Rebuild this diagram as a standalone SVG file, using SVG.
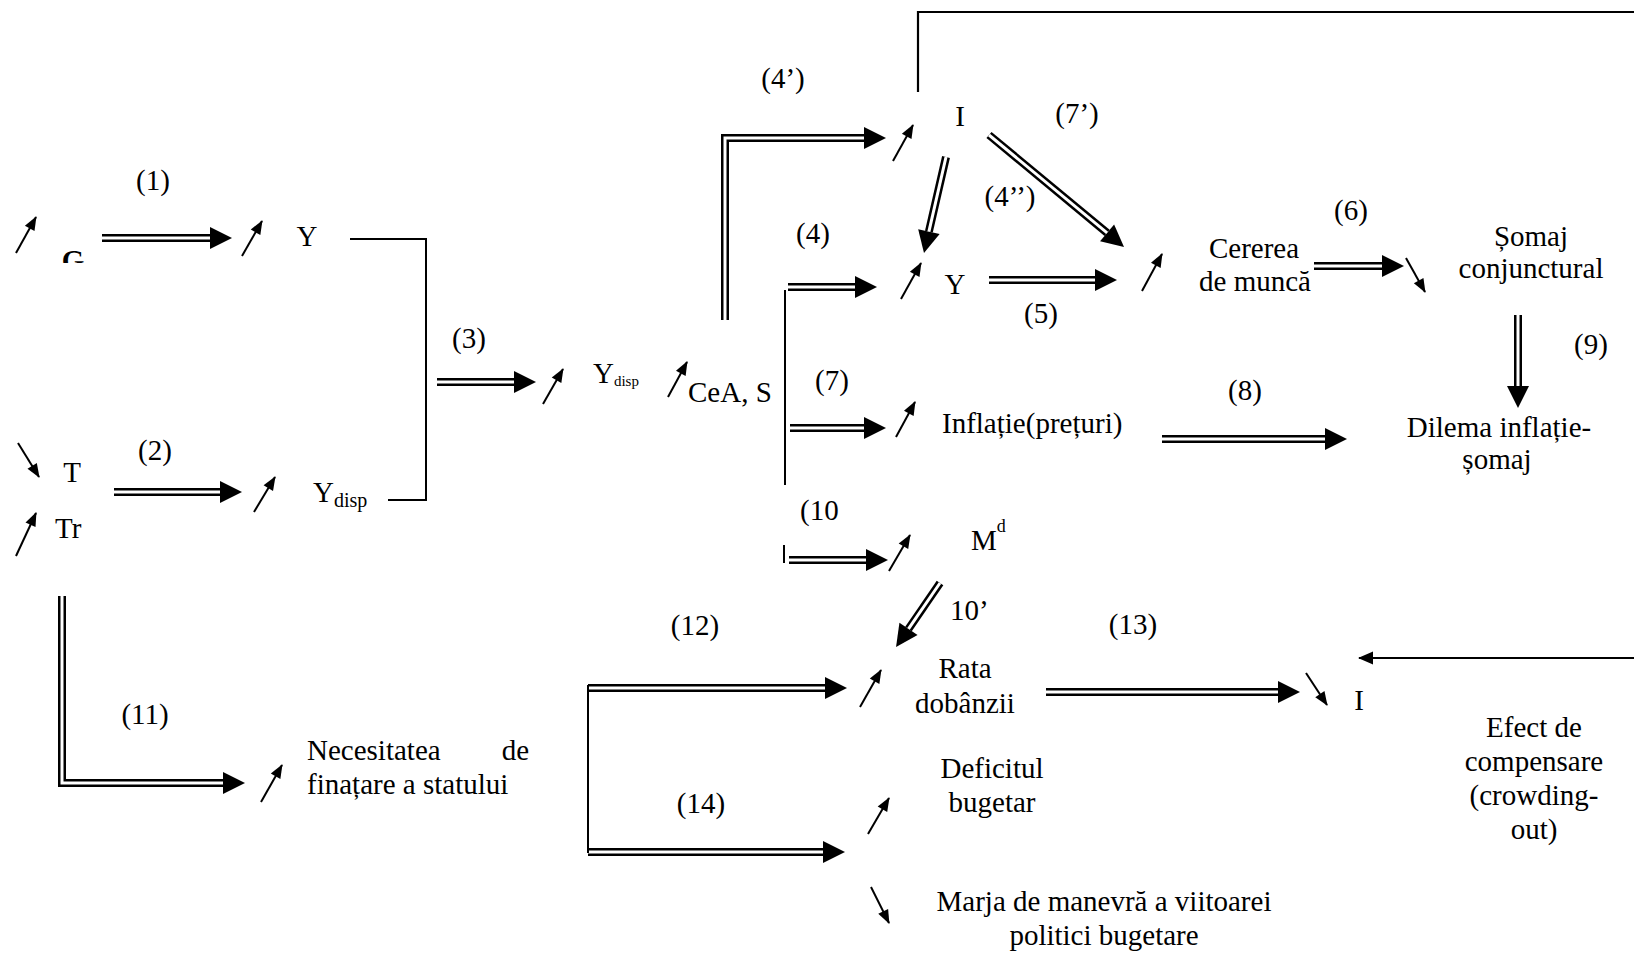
<svg xmlns="http://www.w3.org/2000/svg" width="1634" height="955" viewBox="0 0 1634 955">
  <style>
    text { font-family: "Liberation Serif", "Times New Roman", serif; font-size: 29px; fill: #000; }
    .mid { text-anchor: middle; }
    .sub { font-size: 20px; }
    .ssub { font-size: 15px; }
    .dbl-o { fill: none; stroke: #000; stroke-width: 8; stroke-linejoin: miter; marker-end: url(#bighead); }
    .dbl-i { fill: none; stroke: #fff; stroke-width: 3; stroke-linejoin: miter; }
    .line { fill: none; stroke: #000; stroke-width: 2; }
    .sm { fill: none; stroke: #000; stroke-width: 2; marker-end: url(#smallhead); }
    .fb { fill: none; stroke: #000; stroke-width: 2.2; marker-end: url(#fbhead); }
  </style>
  <defs>
    <!-- filled head for the double-line implication arrows; the path ends at the head's base -->
    <marker id="bighead" markerUnits="userSpaceOnUse" markerWidth="22" markerHeight="22" refX="0" refY="11" orient="auto" overflow="visible">
      <path d="M0,0 L22,11 L0,22 z" fill="#000"/>
    </marker>
    <!-- small head for the increase / decrease arrows -->
    <marker id="smallhead" markerUnits="userSpaceOnUse" markerWidth="14" markerHeight="11" refX="13" refY="5.5" orient="auto" overflow="visible">
      <path d="M0,0 L14,5.5 L0,11 z" fill="#000"/>
    </marker>
    <marker id="fbhead" markerUnits="userSpaceOnUse" markerWidth="15" markerHeight="13" refX="14" refY="6.5" orient="auto" overflow="visible">
      <path d="M0,0 L15,6.5 L0,13 z" fill="#000"/>
    </marker>
    <clipPath id="gclip">
      <rect x="50" y="240" width="50" height="23"/>
    </clipPath>
  </defs>

  <rect width="1634" height="955" fill="#fff"/>

  <!-- double-line arrows and plain connector lines -->
  <g id="connectors">
    <!-- (1) G -> Y -->
    <path class="dbl-o" d="M102,238 H210"/><path class="dbl-i" d="M102,238 H210"/>
    <!-- (2) T, Tr -> Ydisp -->
    <path class="dbl-o" d="M114,492 H220"/><path class="dbl-i" d="M114,492 H220"/>
    <!-- (3) -> Ydisp -->
    <path class="dbl-o" d="M437,382 H514"/><path class="dbl-i" d="M437,382 H514"/>
    <!-- (4') -> I -->
    <path class="dbl-o" d="M725,320 V138 H864"/><path class="dbl-i" d="M725,320 V138 H864"/>
    <!-- (4) -> Y -->
    <path class="dbl-o" d="M788,287 H855"/><path class="dbl-i" d="M788,287 H855"/>
    <!-- (7) -> Inflatie -->
    <path class="dbl-o" d="M790,428 H864"/><path class="dbl-i" d="M790,428 H864"/>
    <!-- (10) -> Md -->
    <path class="dbl-o" d="M789,560 H866"/><path class="dbl-i" d="M789,560 H866"/>
    <!-- (4'') I -> Y -->
    <path class="dbl-o" d="M946,157 L928.9,231.6"/><path class="dbl-i" d="M946,157 L928.9,231.6"/>
    <!-- (7') I -> Cererea -->
    <path class="dbl-o" d="M989,135 L1107.1,232.9"/><path class="dbl-i" d="M989,135 L1107.1,232.9"/>
    <!-- (5) Y -> Cererea -->
    <path class="dbl-o" d="M989,280 H1095"/><path class="dbl-i" d="M989,280 H1095"/>
    <!-- (6) Cererea -> Somaj -->
    <path class="dbl-o" d="M1314,266 H1382"/><path class="dbl-i" d="M1314,266 H1382"/>
    <!-- (9) Somaj -> Dilema -->
    <path class="dbl-o" d="M1518,315 V386"/><path class="dbl-i" d="M1518,315 V386"/>
    <!-- (8) Inflatie -> Dilema -->
    <path class="dbl-o" d="M1162,439 H1325"/><path class="dbl-i" d="M1162,439 H1325"/>
    <!-- 10' Md -> Rata -->
    <path class="dbl-o" d="M940,583 L908.5,628.9"/><path class="dbl-i" d="M940,583 L908.5,628.9"/>
    <!-- (11) -> Necesitatea -->
    <path class="dbl-o" d="M62,596 V783 H223"/><path class="dbl-i" d="M62,596 V783 H223"/>
    <!-- (12) -> Rata -->
    <path class="dbl-o" d="M588,688 H825"/><path class="dbl-i" d="M588,688 H825"/>
    <!-- (13) Rata -> I -->
    <path class="dbl-o" d="M1046,692 H1278"/><path class="dbl-i" d="M1046,692 H1278"/>
    <!-- (14) -> Deficit -->
    <path class="dbl-o" d="M588,852 H823"/><path class="dbl-i" d="M588,852 H823"/>

    <!-- brackets and ticks -->
    <path class="line" d="M350,239 H426 V500 H388"/>
    <path class="line" d="M785,290 V485"/>
    <path class="line" d="M784,545 V563"/>
    <path class="line" d="M588,685 V853"/>

    <!-- crowding-out feedback loop from I round to the lower I -->
    <path class="fb" d="M918,92 V12 H1640 V658 H1359"/>
  </g>

  <!-- increase / decrease markers -->
  <g id="trend-arrows">
    <line class="sm" x1="16" y1="253" x2="36" y2="217"/>
    <line class="sm" x1="242" y1="256" x2="262" y2="221"/>
    <line class="sm" x1="18" y1="443" x2="39" y2="477"/>
    <line class="sm" x1="254" y1="512" x2="275" y2="477"/>
    <line class="sm" x1="16" y1="556" x2="36" y2="513"/>
    <line class="sm" x1="543" y1="404" x2="563" y2="369"/>
    <line class="sm" x1="668" y1="397" x2="687" y2="362"/>
    <line class="sm" x1="893" y1="161" x2="913" y2="125"/>
    <line class="sm" x1="901" y1="299" x2="921" y2="263"/>
    <line class="sm" x1="1142" y1="291" x2="1162" y2="254"/>
    <line class="sm" x1="1406" y1="258" x2="1425" y2="292"/>
    <line class="sm" x1="896" y1="437" x2="915" y2="402"/>
    <line class="sm" x1="889" y1="571" x2="910" y2="535"/>
    <line class="sm" x1="261" y1="802" x2="282" y2="765"/>
    <line class="sm" x1="860" y1="707" x2="881" y2="670"/>
    <line class="sm" x1="868" y1="834" x2="889" y2="798"/>
    <line class="sm" x1="871" y1="887" x2="889" y2="923"/>
    <line class="sm" x1="1306" y1="673" x2="1327" y2="705"/>
  </g>

  <!-- step numbers -->
  <g id="step-labels">
    <text class="mid" x="153" y="190">(1)</text>
    <text class="mid" x="155" y="460">(2)</text>
    <text class="mid" x="469" y="348">(3)</text>
    <text class="mid" x="783" y="88">(4’)</text>
    <text class="mid" x="1077" y="123">(7’)</text>
    <text class="mid" x="1010" y="206">(4’’)</text>
    <text class="mid" x="813" y="243">(4)</text>
    <text class="mid" x="1041" y="323">(5)</text>
    <text class="mid" x="1351" y="220">(6)</text>
    <text class="mid" x="832" y="390">(7)</text>
    <text class="mid" x="1245" y="400">(8)</text>
    <text class="mid" x="1591" y="354">(9)</text>
    <text x="800" y="520">(10</text>
    <text x="950" y="620">10’</text>
    <text class="mid" x="145" y="724">(11)</text>
    <text class="mid" x="695" y="635">(12)</text>
    <text class="mid" x="1133" y="634">(13)</text>
    <text class="mid" x="701" y="813">(14)</text>
  </g>

  <g id="node-G"><text class="mid" x="73" y="270" font-weight="bold" clip-path="url(#gclip)">G</text></g>
  <g id="node-Y1"><text class="mid" x="307" y="246">Y</text></g>
  <g id="node-T"><text class="mid" x="72" y="482">T</text></g>
  <g id="node-Tr"><text x="55" y="538">Tr</text></g>
  <g id="node-Ydisp1"><text x="313" y="502">Y<tspan class="sub" dy="5">disp</tspan></text></g>
  <g id="node-Ydisp2"><text x="593" y="383" font-size="22">Y<tspan class="ssub" dy="3">disp</tspan></text></g>
  <g id="node-CeA"><text x="688" y="402">CeA, S</text></g>
  <g id="node-I1"><text class="mid" x="960" y="126">I</text></g>
  <g id="node-Y2"><text class="mid" x="955" y="294">Y</text></g>
  <g id="node-cererea">
    <text class="mid" x="1254" y="258">Cererea</text>
    <text class="mid" x="1255" y="291">de muncă</text>
  </g>
  <g id="node-somaj">
    <text class="mid" x="1531" y="246">Șomaj</text>
    <text class="mid" x="1531" y="278">conjunctural</text>
  </g>
  <g id="node-inflatie"><text x="942" y="433">Inflație(prețuri)</text></g>
  <g id="node-dilema">
    <text class="mid" x="1499" y="437">Dilema inflație-</text>
    <text class="mid" x="1497" y="469">șomaj</text>
  </g>
  <g id="node-Md"><text x="971" y="550">M<tspan font-size="18" dy="-18">d</tspan></text></g>
  <g id="node-necesitatea">
    <text x="307" y="760">Necesitatea</text>
    <text x="529" y="760" text-anchor="end">de</text>
    <text x="307" y="794">finațare a statului</text>
  </g>
  <g id="node-rata">
    <text class="mid" x="965" y="678">Rata</text>
    <text class="mid" x="965" y="713">dobânzii</text>
  </g>
  <g id="node-I2"><text class="mid" x="1359" y="710">I</text></g>
  <g id="node-efect">
    <text class="mid" x="1534" y="737">Efect de</text>
    <text class="mid" x="1534" y="771">compensare</text>
    <text class="mid" x="1534" y="805">(crowding-</text>
    <text class="mid" x="1534" y="839">out)</text>
  </g>
  <g id="node-deficit">
    <text class="mid" x="992" y="778">Deficitul</text>
    <text class="mid" x="992" y="812">bugetar</text>
  </g>
  <g id="node-marja">
    <text class="mid" x="1104" y="911">Marja de manevră a viitoarei</text>
    <text class="mid" x="1104" y="945">politici bugetare</text>
  </g>
</svg>
